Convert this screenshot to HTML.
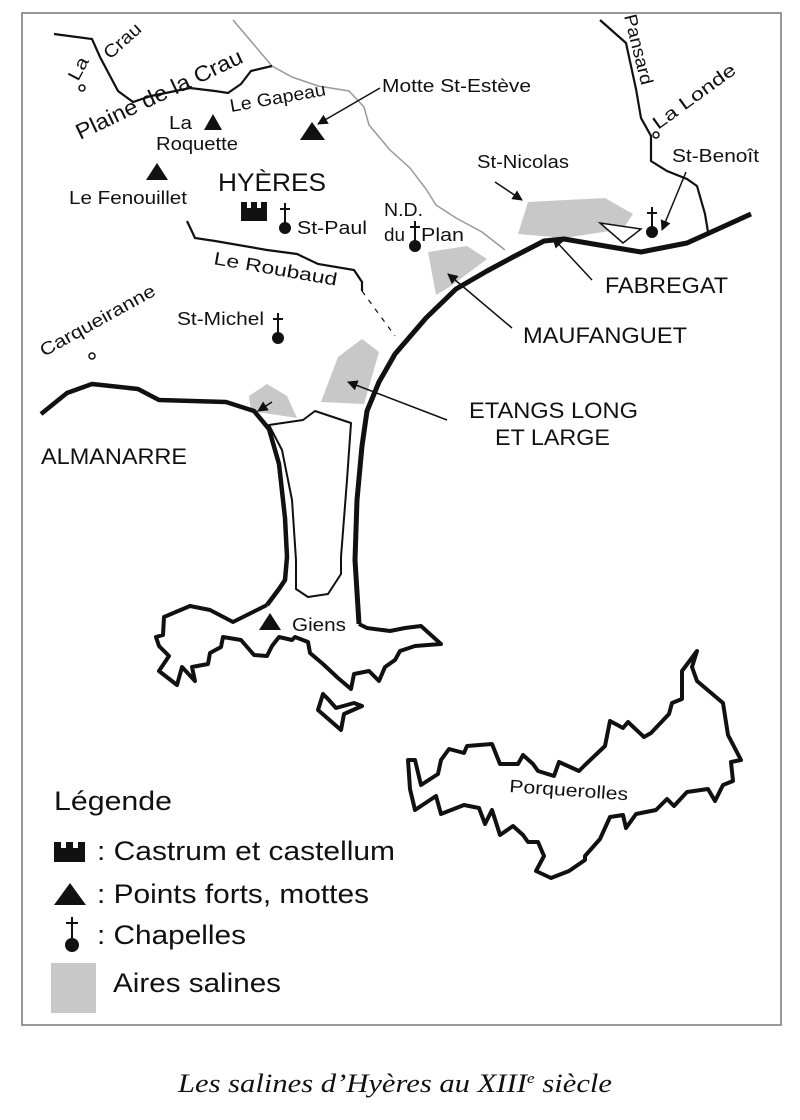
<!DOCTYPE html>
<html><head><meta charset="utf-8"><style>
html,body{margin:0;padding:0;background:#fff;}
svg{display:block;}
text{font-family:"Liberation Sans",sans-serif;fill:#111;}
</style></head><body>
<svg width="800" height="1120" viewBox="0 0 800 1120" xmlns="http://www.w3.org/2000/svg">
<defs>
<marker id="ah" viewBox="0 0 10 10" refX="9" refY="5" markerWidth="7" markerHeight="7" orient="auto-start-reverse"><path d="M0,0 L10,5 L0,10 z" fill="#111"/></marker>
</defs>
<rect x="22" y="13" width="759" height="1012" fill="none" stroke="#777" stroke-width="1.5"/>

<g fill="#c8c8c8">
<polygon points="528,202 605,198 633,214 623,229 564,238 518,234"/>
<polygon points="428,252 467,246 487,259 451,286 436,295"/>
<polygon points="362,339 379,352 364,404 321,402 338,357"/>
<polygon points="267,384 287,396 297,418 251,411 249,396"/>
<rect x="51" y="963" width="45" height="50"/>
</g>

<polyline fill="none" stroke="#999" stroke-width="1.5" points="233,20 272,66 292,77 318,86 349,91 364,107 369,125 390,150 410,168 426,189 436,205 456,218 482,232 505,250"/>

<g fill="none" stroke="#111" stroke-width="2.2">
<polyline points="54,34 92,39 100,57 118,91 133,102 151,96 190,88 215,91 228,93 241,84 251,71 272,66"/>
<polyline points="600,20 626,43 636,89 641,118 651,136 651,161 667,171 687,179 697,186 705,214 708,232"/>
<polyline points="187,221 195,238 215,241 267,250 297,254 318,264 354,270 362,282 362,291"/>
<polyline points="362,291 395,336" stroke-width="1.2" stroke-dasharray="5,6"/>
<polygon points="600,223 641,229 623,243" stroke-width="1.5" fill="#fff"/>
</g>

<g fill="none" stroke="#111" stroke-linejoin="round">
<polyline stroke-width="5" points="751,214 718,229 687,243 641,252 605,246 564,239 544,241 513,257 487,271 456,289 426,318 395,354 379,382 367,411 362,446 357,500 355,560 359,624"/>
<polyline stroke-width="4.5" points="41,414 67,393 92,384 138,389 159,400 226,402 254,411 269,429 279,464 285,518 287,557 285,580 279,589 267,605"/>
<path stroke-width="2" fill="#fff" d="M269,425 L303,420 L315,411 L351,423 L347,480 L341,557 L341,574 L328,594 L308,597 L296,589 L296,560 L292,500 L282,450 Z"/>
<polyline stroke-width="4" points="267,605 233,622 210,610 190,606 164,617 163,635 156,637 159,646 169,656 159,671 177,685 182,667 195,681 192,667 208,664 210,653 221,647 223,637 241,640 254,655 267,656 272,646 279,637 292,640 295,637 308,642 310,653 323,664 338,678 351,689 354,674 369,671 379,681 385,667 395,660 400,651 415,646 441,644 421,626 405,628 390,631 367,628 359,624"/>
<polygon stroke-width="4" points="323,694 318,710 341,730 344,714 362,706 354,703 336,708 328,699"/>
<polygon stroke-width="4" points="697,651 682,671 682,699 672,703 669,714 651,733 644,737 628,722 623,728 610,721 605,746 585,765 579,771 559,762 554,776 538,771 533,764 523,755 518,764 500,764 492,744 467,746 464,753 449,749 441,760 438,774 421,785 415,760 408,760 410,789 415,810 436,796 441,814 464,805 479,808 485,824 492,810 500,835 513,826 523,835 528,842 538,842 544,856 536,871 551,878 569,871 585,860 585,856 600,839 610,817 623,815 626,828 636,814 656,810 667,799 674,806 687,792 708,789 715,801 723,785 733,781 731,762 741,760 728,735 723,703 697,681 692,667"/>
</g>

<g stroke="#111" stroke-width="1.5" marker-end="url(#ah)">
<line x1="380" y1="88" x2="318" y2="124"/>
<line x1="495" y1="182" x2="522" y2="200"/>
<line x1="686" y1="172" x2="662" y2="230"/>
<line x1="592" y1="280" x2="553" y2="238"/>
<line x1="512" y1="328" x2="448" y2="274"/>
<line x1="447" y1="420" x2="348" y2="382"/>
<line x1="272" y1="402" x2="258" y2="411"/>
</g>

<g fill="#111">
<polygon points="213,114 204,130 222,130"/>
<polygon points="312,122 300,140 325,140"/>
<polygon points="157,163 146,180 168,180"/>
<polygon points="270,613 259,630 281,630"/>
<polygon points="70,883 54,905 86,905"/>
</g>
<path d="M241,202 h6 v6 h4 v-6 h6 v6 h4 v-6 h6 v19 h-26 z" fill="#111"/>
<path d="M54,842 h7 v6 h5 v-6 h7 v6 h5 v-6 h7 v20 h-31 z" fill="#111"/>
<g stroke="#111" stroke-width="2" fill="#111">
<line x1="285" y1="203" x2="285" y2="226"/><line x1="280" y1="209" x2="290" y2="209"/><circle cx="285" cy="228" r="5"/>
<line x1="415" y1="221" x2="415" y2="243"/><line x1="410" y1="227" x2="420" y2="227"/><circle cx="415" cy="246" r="5"/>
<line x1="278" y1="313" x2="278" y2="334"/><line x1="273" y1="319" x2="283" y2="319"/><circle cx="278" cy="338" r="5"/>
<line x1="652" y1="207" x2="652" y2="228"/><line x1="647" y1="213" x2="657" y2="213"/><circle cx="652" cy="232" r="5"/>
<line x1="72" y1="917" x2="72" y2="942"/><line x1="66" y1="923" x2="78" y2="923"/><circle cx="72" cy="945" r="6"/>
</g>
<g fill="#fff" stroke="#111" stroke-width="1.5">
<circle cx="82" cy="88" r="3"/><circle cx="656" cy="135" r="3"/><circle cx="92" cy="356" r="3"/>
</g>

<g font-size="18">
<text transform="translate(78,82) rotate(-62)" textLength="24" lengthAdjust="spacingAndGlyphs">La</text>
<text transform="translate(110,60) rotate(-42)" textLength="44" lengthAdjust="spacingAndGlyphs">Crau</text>
<text font-size="22" transform="translate(80,140) rotate(-25.4)" textLength="182" lengthAdjust="spacingAndGlyphs">Plaine de la Crau</text>
<text transform="translate(231,112) rotate(-10)" textLength="97" lengthAdjust="spacingAndGlyphs">Le Gapeau</text>
<text transform="translate(624,16) rotate(76)" textLength="72" lengthAdjust="spacingAndGlyphs">Pansard</text>
<text transform="translate(658,130) rotate(-36)" textLength="98" lengthAdjust="spacingAndGlyphs">La Londe</text>
<text transform="translate(44,357) rotate(-29)" textLength="129" lengthAdjust="spacingAndGlyphs">Carqueiranne</text>
<text x="382" y="92" textLength="149" lengthAdjust="spacingAndGlyphs">Motte St-Estève</text>
<text x="169" y="129" textLength="23" lengthAdjust="spacingAndGlyphs">La</text>
<text x="156" y="150" textLength="82" lengthAdjust="spacingAndGlyphs">Roquette</text>
<text x="69" y="204" textLength="118" lengthAdjust="spacingAndGlyphs">Le Fenouillet</text>
<text x="297" y="234" textLength="70" lengthAdjust="spacingAndGlyphs">St-Paul</text>
<text x="384" y="216" textLength="39" lengthAdjust="spacingAndGlyphs">N.D.</text>
<text x="384" y="241" textLength="21" lengthAdjust="spacingAndGlyphs">du</text>
<text x="421" y="241" textLength="43" lengthAdjust="spacingAndGlyphs">Plan</text>
<text transform="translate(213,264) rotate(10)" textLength="125" lengthAdjust="spacingAndGlyphs">Le Roubaud</text>
<text x="177" y="325" textLength="87" lengthAdjust="spacingAndGlyphs">St-Michel</text>
<text x="477" y="168" textLength="92" lengthAdjust="spacingAndGlyphs">St-Nicolas</text>
<text x="672" y="162" textLength="87" lengthAdjust="spacingAndGlyphs">St-Benoît</text>
<text x="292" y="631" textLength="54" lengthAdjust="spacingAndGlyphs">Giens</text>
<text transform="translate(509,792) rotate(4)" textLength="119" lengthAdjust="spacingAndGlyphs">Porquerolles</text>
</g>
<text x="218" y="191" font-size="25" textLength="108" lengthAdjust="spacingAndGlyphs">HYÈRES</text>
<g font-size="22">
<text x="41" y="464" textLength="146" lengthAdjust="spacingAndGlyphs">ALMANARRE</text>
<text x="469" y="418" textLength="169" lengthAdjust="spacingAndGlyphs">ETANGS LONG</text>
<text x="495" y="445" textLength="115" lengthAdjust="spacingAndGlyphs">ET LARGE</text>
<text x="523" y="343" textLength="164" lengthAdjust="spacingAndGlyphs">MAUFANGUET</text>
<text x="605" y="293" textLength="123" lengthAdjust="spacingAndGlyphs">FABREGAT</text>
</g>
<g font-size="27">
<text x="54" y="810" textLength="118" lengthAdjust="spacingAndGlyphs">Légende</text>
<text x="97" y="860" textLength="298" lengthAdjust="spacingAndGlyphs">: Castrum et castellum</text>
<text x="97" y="903" textLength="272" lengthAdjust="spacingAndGlyphs">: Points forts, mottes</text>
<text x="97" y="944" textLength="149" lengthAdjust="spacingAndGlyphs">: Chapelles</text>
<text x="113" y="992" textLength="168" lengthAdjust="spacingAndGlyphs">Aires salines</text>
</g>
<text x="178" y="1092" font-size="26" font-style="italic" style="font-family:'Liberation Serif',serif" textLength="434" lengthAdjust="spacingAndGlyphs">Les salines d’Hyères au XIII<tspan font-size="15" dy="-9">e</tspan><tspan dy="9"> siècle</tspan></text>
</svg>
</body></html>
